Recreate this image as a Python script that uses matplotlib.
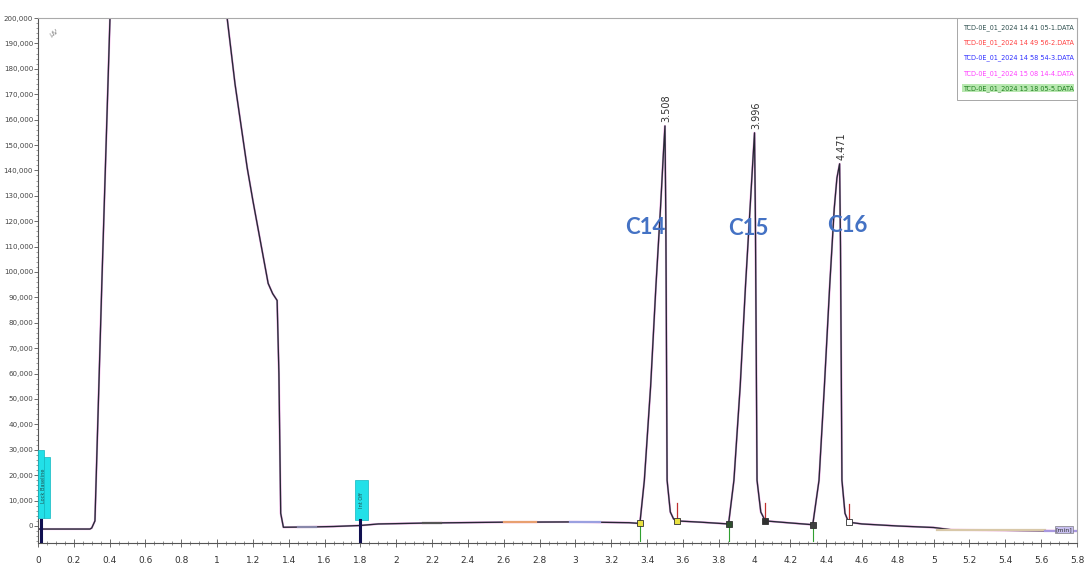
import matplotlib
matplotlib.use("Agg")
import matplotlib.pyplot as plt
from matplotlib.ticker import MultipleLocator, FuncFormatter

# chromatogram trace (time in min, signal in uV)
trace_t = [0.0, 0.01, 0.03, 0.10, 0.20, 0.29, 0.30, 0.318, 0.357, 0.402, 0.45, 0.95, 1.02,
           1.056, 1.10, 1.168, 1.20, 1.285, 1.31, 1.335, 1.345, 1.355, 1.37, 1.5, 1.65, 1.8,
           1.9, 2.2, 2.6, 3.0, 3.3,
           3.36, 3.385, 3.42, 3.45, 3.475, 3.49, 3.50, 3.505, 3.512, 3.53, 3.548, 3.565,
           3.7,
           3.855, 3.885, 3.92, 3.95, 3.975, 3.99, 4.0, 4.005, 4.014, 4.035, 4.06,
           4.2,
           4.325, 4.36, 4.39, 4.42, 4.445, 4.46, 4.475, 4.48, 4.488, 4.505, 4.525,
           4.6, 4.8, 5.0, 5.1, 5.5, 5.8]
trace_v = [-1200, -1200, -1200, -1200, -1200, -1200, -800, 2000, 96700, 200000, 300000, 300000, 220000,
           200000, 174000, 141000, 128000, 95500, 91500, 88800, 60000, 5000, -500, -400, -200, 200,
           800, 1200, 1500, 1600, 1300,
           1000, 18000, 55000, 95000, 125000, 145000, 157500, 120000, 18000, 5500, 2800, 2000,
           1500,
           800, 18000, 55000, 95000, 125000, 143000, 154800, 120000, 18000, 5500, 2000,
           1200,
           500, 18000, 55000, 95000, 125000, 137000, 142600, 110000, 18000, 5000, 1500,
           800, 0, -600, -1500, -1800, -2000]

# short stretches where the other runs show through the baseline
seg_t0 = [1.45, 2.15, 2.60, 2.97, 5.02, 5.62]
seg_t1 = [1.55, 2.25, 2.78, 3.14, 5.62, 5.80]
seg_v = [-300, 1200, 1500, 1600, -1700, -2000]
seg_c = ["#8888aa", "#555555", "#e8a070", "#9aa0e0", "#d8c8a8", "#a898e0"]

# peaks
peak_names = ["C14", "C15", "C16"]
peak_rt = [3.50, 4.00, 4.475]
peak_h = [157500, 154800, 142600]
peak_lbl = ["3.508", "3.996", "4.471"]
name_x = [3.39, 3.966, 4.52]
name_y = [117500, 117000, 118500]

# integration start / end marks
start_t = [3.36, 3.855, 4.325]
start_v = [1000, 800, 500]
start_c = ["#e8e040", "#2f4f2f", "#404040"]
end_t = [3.565, 4.06, 4.525]
end_v = [2000, 2000, 1500]
end_c = ["#e8e040", "#303030", "white"]

# cyan timed-event boxes
ev_left = [0.0, 0.035, 1.77]
ev_width = [0.035, 0.030, 0.07]
ev_bottom = [3000, 3000, 2400]
ev_top = [30000, 27000, 18000]
ev_mark_t = [0.015, 1.80]

run_names = ["TCD-0E_01_2024 14 41 05-1.DATA", "TCD-0E_01_2024 14 49 56-2.DATA",
             "TCD-0E_01_2024 14 58 54-3.DATA", "TCD-0E_01_2024 15 08 14-4.DATA",
             "TCD-0E_01_2024 15 18 05-5.DATA"]
run_colors = ["#2f4f4f", "#ff4040", "#3030ff", "#ff40ff", "#208020"]

fig = plt.figure(figsize=(10.85, 5.68), dpi=100)
ax = fig.add_axes([0.035, 0.044, 0.9576, 0.9243])

# five overlaid runs (practically identical)
for c, lw in zip(["#ff60ff", "#ff6060", "#4040ff", "#40a040"], [1.7, 1.4, 1.2, 1.0]):
    ax.plot(trace_t, trace_v, color=c, lw=lw, alpha=0.25)
ax.plot(trace_t, trace_v, color="#262633", lw=0.9)
for a, b, v, c in zip(seg_t0, seg_t1, seg_v, seg_c):
    ax.plot([a, b], [v, v], color=c, lw=1.6)

ax.bar(ev_left, [t - b for t, b in zip(ev_top, ev_bottom)], width=ev_width, bottom=ev_bottom,
       align="edge", color="#22e0e8", edgecolor="#10b8c0", lw=0.5, zorder=3)
for t in ev_mark_t:
    ax.plot([t, t], [-6000, 2500], color="#101050", lw=2.2, zorder=4)
ax.text(0.03, 16000, "Lock Baseline", rotation=90, fontsize=3.6, color="#205050",
        ha="center", va="center", zorder=5)
ax.text(1.805, 10000, "Int Off", rotation=90, fontsize=3.6, color="#205050",
        ha="center", va="center", zorder=5)

for t, v, c in zip(start_t, start_v, start_c):
    ax.plot([t, t], [-6000, v], color="#30a030", lw=0.8, zorder=4)
    ax.plot(t, v, "s", ms=4.5, mfc=c, mec="#303030", mew=0.6, zorder=5)
for t, v, c in zip(end_t, end_v, end_c):
    ax.plot([t, t], [v, v + 7000], color="#c03030", lw=0.9, zorder=4)
    ax.plot(t, v, "s", ms=4.5, mfc=c, mec="#303030", mew=0.6, zorder=5)

for t, h, lb in zip(peak_rt, peak_h, peak_lbl):
    ax.text(t + 0.01, h + 1500, lb, rotation=90, fontsize=7, color="#333333",
            ha="center", va="bottom")
for nm, x, y in zip(peak_names, name_x, name_y):
    ax.text(x, y, nm, fontsize=16, fontweight="bold", family=["Lato", "DejaVu Sans"],
            color="#4472C4", ha="center", va="center")

# run legend, top right
ax.add_patch(plt.Rectangle((0.885, 0.843), 0.115, 0.157, transform=ax.transAxes,
                           fill=False, ec="#999999", lw=0.6))
for i, (nm, c) in enumerate(zip(run_names, run_colors)):
    bb = dict(boxstyle="square,pad=0.1", fc="#b8e8b0", ec="none") if i == 4 else None
    ax.text(0.89, 0.981 - i * 0.0287, nm, transform=ax.transAxes, fontsize=4.7,
            color=c, ha="left", va="center", bbox=bb)

ax.text(0.01, 0.972, "μV", transform=ax.transAxes, fontsize=5, color="#888888",
        rotation=30, ha="left", va="center")
ax.text(0.9875, 0.026, "[min]", transform=ax.transAxes, fontsize=4.5, color="#333333",
        ha="center", va="center",
        bbox=dict(boxstyle="square,pad=0.15", fc="#c8c0f0", ec="#666666", lw=0.4))

ax.set_xlim(0, 5.8)
ax.set_ylim(-6700, 200000)
ax.xaxis.set_major_locator(MultipleLocator(0.2))
ax.xaxis.set_minor_locator(MultipleLocator(0.05))
ax.yaxis.set_major_locator(MultipleLocator(10000))
ax.yaxis.set_minor_locator(MultipleLocator(2000))
ax.xaxis.set_major_formatter(FuncFormatter(lambda v, p: f"{v:g}"))
ax.yaxis.set_major_formatter(FuncFormatter(lambda v, p: f"{v:,.0f}" if v >= 0 else ""))
ax.tick_params(axis="x", which="major", direction="inout", length=6, width=0.6,
               labelsize=6.5, labelcolor="#333333", color="#555555", pad=6)
ax.tick_params(axis="x", which="minor", direction="inout", length=3, width=0.5, color="#666666")
ax.tick_params(axis="y", which="major", direction="out", length=3, width=0.6,
               labelsize=5.1, labelcolor="#444444", color="#555555", pad=0.5)
ax.tick_params(axis="y", which="minor", direction="out", length=1.5, width=0.5, color="#777777")
for s in ["top", "right"]:
    ax.spines[s].set_color("#aaaaaa")
    ax.spines[s].set_linewidth(0.8)
for s in ["left", "bottom"]:
    ax.spines[s].set_color("#555555")
    ax.spines[s].set_linewidth(0.8)

fig.savefig("out.png", dpi=100)
